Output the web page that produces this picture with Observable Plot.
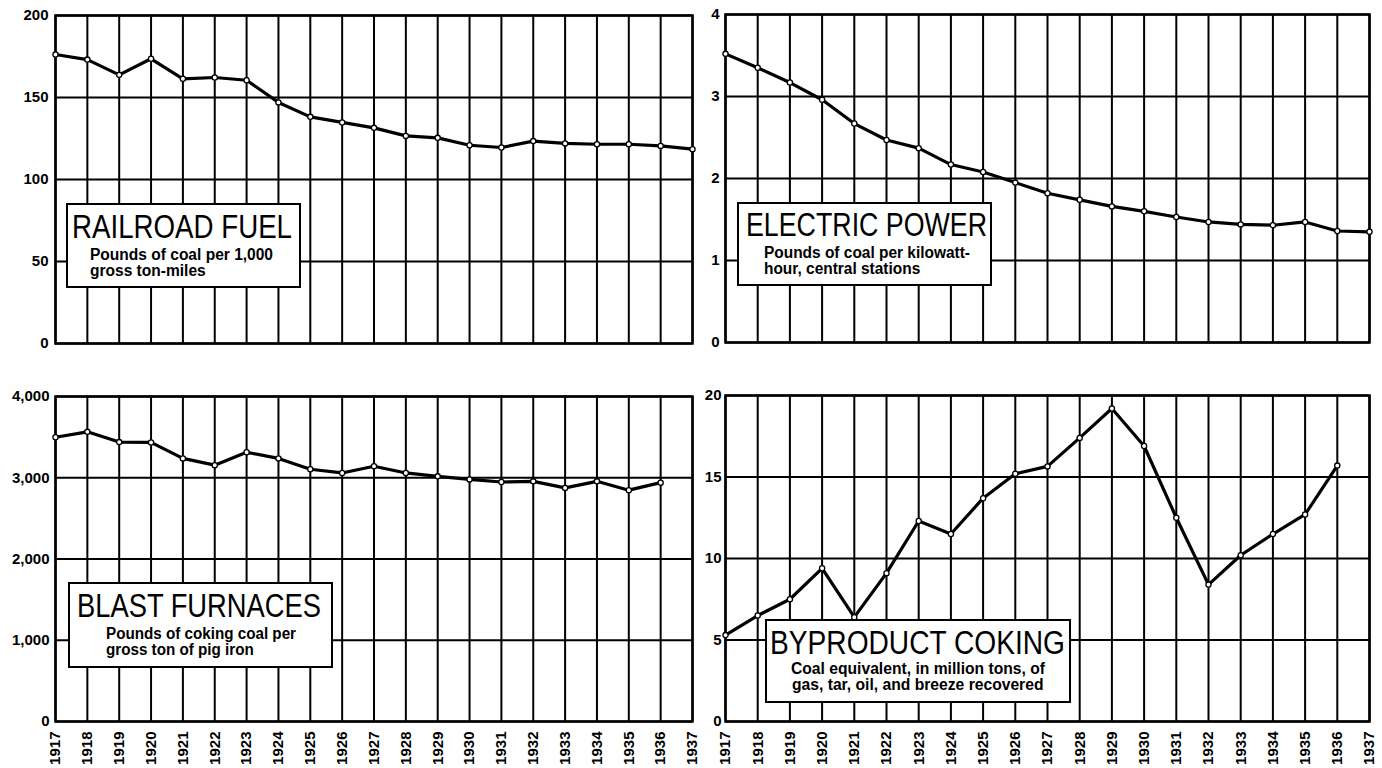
<!DOCTYPE html>
<html><head><meta charset="utf-8">
<script src="https://cdn.jsdelivr.net/npm/d3@7"></script>
<script src="https://cdn.jsdelivr.net/npm/@observablehq/plot@0.6"></script>
<style>
html,body{margin:0;padding:0;background:#fff;}
#chart{position:relative;width:1382px;height:768px;overflow:hidden;background:#fff;}
.panel{position:absolute;}
.box{position:absolute;box-sizing:border-box;border:2.5px solid #000;background:#fff;}
.box .t{position:absolute;white-space:nowrap;font-family:"Liberation Sans",Arial,sans-serif;font-size:33px;line-height:33px;color:#000;transform-origin:0 50%;}
.box .s{position:absolute;white-space:nowrap;font-family:"Liberation Sans",Arial,sans-serif;font-weight:bold;font-size:16px;line-height:16.5px;color:#000;transform-origin:0 50%;}
</style>
</head><body>
<div id="chart"></div>
<script>
// ---- data ----
const years = [1917,1918,1919,1920,1921,1922,1923,1924,1925,1926,1927,1928,1929,1930,1931,1932,1933,1934,1935,1936,1937];
const railroadFuel = [176.2,173.1,163.8,173.6,161.4,162.2,160.5,147,138.2,134.8,131.5,126.6,125.4,120.9,119.5,123.4,122,121.5,121.5,120.5,118.5];
const electricPower = [3.52,3.35,3.17,2.96,2.67,2.47,2.37,2.17,2.08,1.95,1.82,1.74,1.66,1.60,1.53,1.47,1.44,1.43,1.47,1.36,1.35];
const blastFurnaces = [3498,3565,3439,3435,3238,3155,3314,3238,3105,3059,3142,3059,3017,2980,2948,2956,2875,2956,2847,2940];
const byproductCoking = [5.3,6.5,7.5,9.4,6.4,9.1,12.3,11.5,13.7,15.2,15.65,17.4,19.2,16.9,12.5,8.4,10.2,11.5,12.7,15.7];
const railroadTicks = [0,50,100,150,200];
const electricTicks = [0,1,2,3,4];
const blastTicks = [0,1000,2000,3000,4000];
const cokingTicks = [0,5,10,15,20];
const titles = ["RAILROAD FUEL","ELECTRIC POWER","BLAST FURNACES","BYPRODUCT COKING"];
const subtitles = [
  ["Pounds of coal per 1,000","gross ton-miles"],
  ["Pounds of coal per kilowatt-","hour, central stations"],
  ["Pounds of coking coal per","gross ton of pig iron"],
  ["Coal equivalent, in million tons, of","gas, tar, oil, and breeze recovered"]
];

const FONT = '"Liberation Sans",Arial,sans-serif';
const chart = document.getElementById("chart");

function panel(values, yTicks, yFormat, showX, w, h, m) {
  const rows = values.map((v, i) => ({year: years[i], value: v}));
  const xOpts = showX
    ? {type: "linear", domain: [years[0], years[years.length - 1]], ticks: years, tickFormat: d3.format("d"), tickRotate: -90, tickSize: 0, tickPadding: 10, label: null}
    : {type: "linear", domain: [years[0], years[years.length - 1]], axis: null};
  return Plot.plot({
    width: w, height: h,
    marginLeft: m.l, marginRight: m.r, marginTop: m.t, marginBottom: m.b,
    style: {fontFamily: FONT, fontWeight: "bold", fontSize: "15px", color: "#000", background: "transparent", overflow: "visible"},
    x: xOpts,
    y: {domain: [0, yTicks[yTicks.length - 1]], ticks: yTicks, tickFormat: yFormat, tickSize: 0, tickPadding: m.p, label: null},
    marks: [
      Plot.ruleX(years, {stroke: "#000", strokeWidth: 2}),
      Plot.ruleY(yTicks, {stroke: "#000", strokeWidth: 2}),
      Plot.frame({stroke: "#000", strokeWidth: 2.5}),
      Plot.line(rows, {x: "year", y: "value", stroke: "#000", strokeWidth: 3.2, strokeLinejoin: "round"}),
      Plot.dot(rows, {x: "year", y: "value", r: 2.6, fill: "#fff", stroke: "#000", strokeWidth: 1.3})
    ]
  });
}

function place(el, left, top) {
  const d = document.createElement("div");
  d.className = "panel";
  d.style.left = left + "px";
  d.style.top = top + "px";
  d.appendChild(el);
  chart.appendChild(d);
}

place(panel(railroadFuel, railroadTicks, d3.format("d"), false, 700, 360, {l: 55, r: 8, t: 15, b: 17, p: 7}), 0, 0);
place(panel(electricPower, electricTicks, d3.format("d"), false, 692, 360, {l: 35, r: 13, t: 14, b: 18, p: 6}), 690, 0);
place(panel(blastFurnaces, blastTicks, d3.format(","), true, 700, 388, {l: 55, r: 8, t: 16, b: 47, p: 6}), 0, 380);
place(panel(byproductCoking, cokingTicks, d3.format("d"), true, 692, 388, {l: 35, r: 13, t: 15, b: 47, p: 4}), 690, 380);

// ---- label boxes ----
const boxes = [
  {left: 66, top: 203, w: 235, h: 85, tx: 6, tb: 35, tw: 220, sx: 24, sb: 58, sw: 183, center: false},
  {left: 737, top: 202, w: 255, h: 84, tx: 9, tb: 34, tw: 241, sx: 27, sb: 57, sw: 206, center: false},
  {left: 68, top: 582, w: 265, h: 86, tx: 9, tb: 35, tw: 244, sx: 38, sb: 58, sw: 190, center: false},
  {left: 765, top: 619, w: 306, h: 84, tx: 5, tb: 35, tw: 295, sx: 27, sb: 56, sw: 254, center: true}
];
boxes.forEach((b, i) => {
  const d = document.createElement("div");
  d.className = "box";
  Object.assign(d.style, {left: b.left + "px", top: b.top + "px", width: b.w + "px", height: b.h + "px"});
  chart.appendChild(d);
  const t = document.createElement("div");
  t.className = "t";
  t.textContent = titles[i];
  t.style.left = (b.tx - 2.5) + "px";
  t.style.top = (b.tb - 2.5 - 28) + "px";
  d.appendChild(t);
  const tk = b.tw / t.getBoundingClientRect().width;
  t.style.transform = "scaleX(" + tk + ")";
  const subs = subtitles[i].map((line, j) => {
    const s = document.createElement("div");
    s.className = "s";
    s.textContent = line;
    s.style.top = (b.sb - 2.5 - 13.8 + j * 16.5) + "px";
    d.appendChild(s);
    return s;
  });
  const w0 = subs[0].getBoundingClientRect().width;
  const sk = b.sw / w0;
  subs.forEach(s => {
    const wj = s.getBoundingClientRect().width * sk;
    const left = b.center ? (b.w - 5 - wj) / 2 : b.sx - 2.5;
    s.style.left = left + "px";
    s.style.transform = "scaleX(" + sk + ")";
  });
});
</script>
</body></html>
